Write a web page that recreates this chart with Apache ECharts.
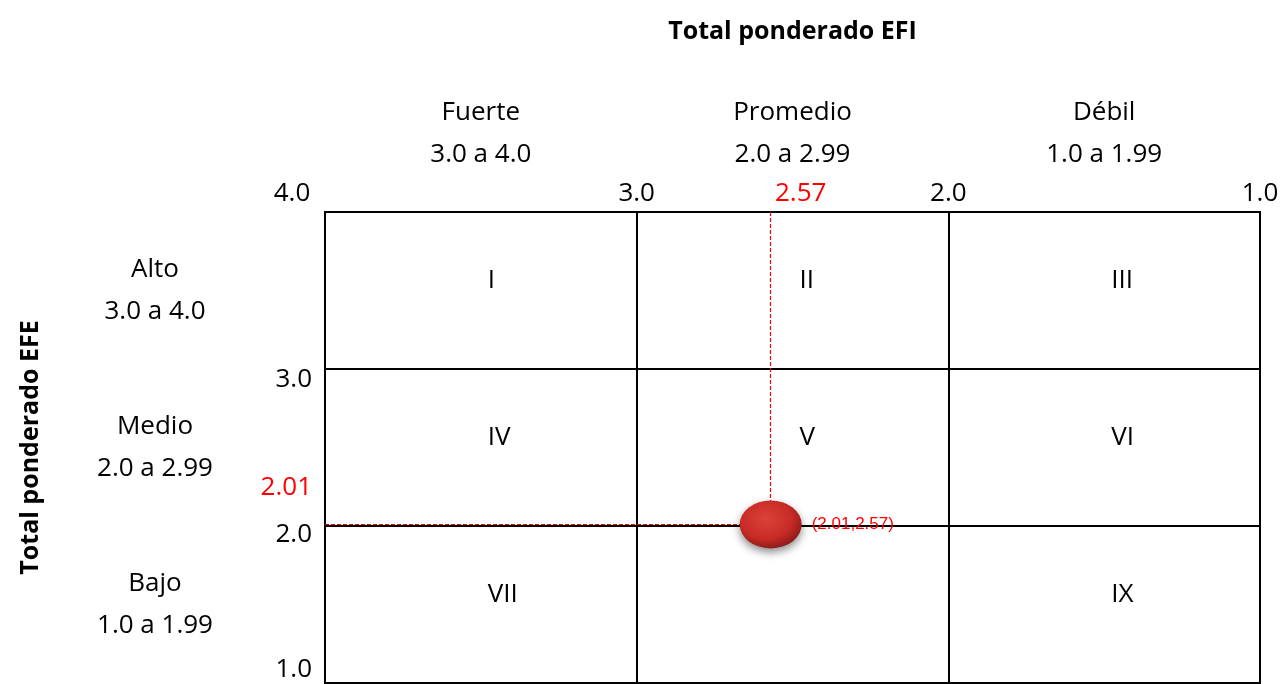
<!DOCTYPE html>
<html>
<head>
<meta charset="utf-8">
<script src="https://cdn.jsdelivr.net/npm/echarts@6/dist/echarts.min.js"></script>
<style>
  html, body { margin: 0; padding: 0; background: #fff; }
  #chart { width: 1283px; height: 684px; }
</style>
</head>
<body>
<div id="chart"></div>
<script>
// matriz EFI / EFE
var efiTicks = [4, 3, 2, 1];
var efeTicks = [3, 2, 1];
var colLevels = ["Fuerte", "Promedio", "Débil"];
var colRanges = ["3.0 a 4.0", "2.0 a 2.99", "1.0 a 1.99"];
var rowLevels = ["Alto", "Medio", "Bajo"];
var rowRanges = ["3.0 a 4.0", "2.0 a 2.99", "1.0 a 1.99"];
var bandCenters = [3.5, 2.5, 1.5];
var cellNames = ["I", "II", "III", "IV", "V", "VI", "VII", "", "IX"];
var efiTotal = 2.57;
var efeTotal = 2.01;

var chart = echarts.init(document.getElementById("chart"));

var baseFont = "Open Sans";
var fs = 26;
var cells = [];
for (var r = 0; r < 3; r++) {
  for (var c = 0; c < 3; c++) {
    cells.push({value: [bandCenters[c], bandCenters[r]], name: cellNames[r * 3 + c]});
  }
}

// label nudges (padding) to sit like the original slide
var xRich = {
  n: {fontSize: fs, fontFamily: baseFont, color: "#000"},
  first: {fontSize: fs, fontFamily: baseFont, color: "#000", padding: [0, 66, 0, 0]},
  r: {fontSize: fs, fontFamily: baseFont, color: "#ff0000", padding: [0, 0, 0, 60]}
};
var yRich = {
  a: {fontSize: fs, fontFamily: baseFont, color: "#000", padding: [22, 0, 0, 0]},
  b: {fontSize: fs, fontFamily: baseFont, color: "#000", padding: [18, 0, 0, 0]},
  c: {fontSize: fs, fontFamily: baseFont, color: "#000", padding: [0, 0, 26, 0]},
  r: {fontSize: fs, fontFamily: baseFont, color: "#ff0000", padding: [0, 0, 74, 0]}
};

chart.setOption({
  backgroundColor: "#fff",
  animation: false,
  grid: {
    left: 325,
    right: 23,
    top: 212,
    bottom: 1,
    show: true,
    borderColor: "#000",
    borderWidth: 2,
    containLabel: false,
    outerBoundsMode: "none"
  },
  xAxis: [
    {
      type: "value",
      position: "top",
      inverse: true,
      min: 1,
      max: 4,
      interval: 1,
      axisLine: {show: false},
      axisTick: {show: false},
      splitLine: {show: true, lineStyle: {color: "#000", width: 2}},
      axisLabel: {
        customValues: efiTicks.concat([efiTotal]),
        showMinLabel: true,
        showMaxLabel: true,
        margin: 4,
        lineHeight: 28,
        formatter: function (v) {
          if (v === efiTotal) return "{r|" + v.toFixed(2) + "}";
          if (v === 4) return "{first|" + v.toFixed(1) + "}";
          return "{n|" + v.toFixed(1) + "}";
        },
        rich: xRich
      }
    },
    {
      type: "value",
      position: "top",
      inverse: true,
      min: 1,
      max: 4,
      interval: 1,
      name: "Total ponderado EFI",
      nameLocation: "middle",
      nameGap: 168,
      nameTextStyle: {fontSize: 25, fontWeight: "bold", fontFamily: baseFont, color: "#000"},
      axisLine: {show: false},
      axisTick: {show: false},
      splitLine: {show: false},
      axisLabel: {
        customValues: bandCenters,
        showMinLabel: true,
        showMaxLabel: true,
        margin: 36,
        fontSize: fs,
        fontFamily: baseFont,
        color: "#000",
        lineHeight: 42,
        formatter: function (v) {
          var i = Math.round(3.5 - v);
          return colLevels[i] + "\n" + colRanges[i];
        }
      }
    }
  ],
  yAxis: [
    {
      type: "value",
      position: "left",
      min: 1,
      max: 4,
      interval: 1,
      axisLine: {show: false},
      axisTick: {show: false},
      splitLine: {show: true, lineStyle: {color: "#000", width: 2}},
      axisLabel: {
        customValues: efeTicks.concat([efeTotal]),
        showMinLabel: true,
        showMaxLabel: true,
        margin: 13,
        formatter: function (v) {
          if (v === efeTotal) return "{r|" + v.toFixed(2) + "}";
          if (v === 3) return "{a|3.0}";
          if (v === 2) return "{b|2.0}";
          return "{c|" + v.toFixed(1) + "}";
        },
        rich: yRich
      }
    },
    {
      type: "value",
      position: "left",
      min: 1,
      max: 4,
      interval: 1,
      name: "Total ponderado EFE",
      nameLocation: "middle",
      nameRotate: 90,
      nameGap: 282,
      nameTextStyle: {fontSize: 25, fontWeight: "bold", fontFamily: baseFont, color: "#000"},
      axisLine: {show: false},
      axisTick: {show: false},
      splitLine: {show: false},
      axisLabel: {
        customValues: bandCenters,
        showMinLabel: true,
        showMaxLabel: true,
        margin: 170,
        align: "center",
        fontSize: fs,
        fontFamily: baseFont,
        color: "#000",
        lineHeight: 42,
        padding: [16, 0, 0, 0],
        formatter: function (v) {
          var i = Math.round(3.5 - v);
          return rowLevels[i] + "\n" + rowRanges[i];
        }
      }
    }
  ],
  series: [
    {
      type: "scatter",
      silent: true,
      symbolSize: 0,
      data: cells,
      itemStyle: {opacity: 1},
      label: {
        show: true,
        position: "inside",
        align: "left",
        offset: [7, -10],
        formatter: function (p) { return p.name; },
        fontSize: fs,
        fontFamily: baseFont,
        color: "#000"
      }
    },
    {
      type: "scatter",
      data: [[efiTotal, efeTotal]],
      symbol: "circle",
      symbolSize: [62, 48],
      z: 5,
      itemStyle: {
        opacity: 1,
        color: new echarts.graphic.RadialGradient(0.42, 0.38, 0.65, [
          {offset: 0, color: "#dc4139"},
          {offset: 0.65, color: "#c72b25"},
          {offset: 1, color: "#8a1a18"}
        ]),
        shadowBlur: 8,
        shadowOffsetY: 4,
        shadowColor: "rgba(0,0,0,0.45)"
      },
      label: {
        show: true,
        position: "right",
        distance: 10,
        fontSize: 17,
        fontFamily: "Liberation Sans",
        color: "#ff0000",
        formatter: function (p) {
          return "(" + p.value[1].toFixed(2) + "," + p.value[0].toFixed(2) + ")";
        }
      },
      emphasis: {disabled: true},
      markLine: {
        silent: true,
        symbol: ["none", "none"],
        label: {show: false},
        lineStyle: {color: "#ff0000", type: [4, 2], width: 1.2, opacity: 1},
        emphasis: {disabled: true},
        data: [
          [{coord: [efiTotal, 4]}, {coord: [efiTotal, efeTotal]}],
          [{coord: [4, efeTotal]}, {coord: [efiTotal, efeTotal]}]
        ]
      }
    }
  ]
});
</script>
</body>
</html>
